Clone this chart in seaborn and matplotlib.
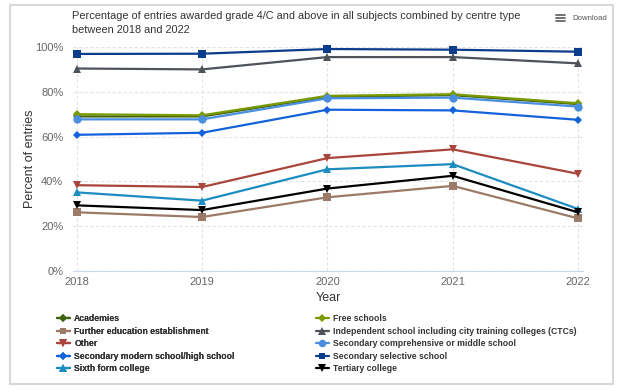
import numpy as np
import pandas as pd
import matplotlib
matplotlib.use('Agg')
import matplotlib.pyplot as plt
from matplotlib.patches import Rectangle
from matplotlib.lines import Line2D
import seaborn as sns

YEARS = [2018, 2019, 2020, 2021, 2022]

ACADEMIES = [69.0, 69.0, 77.8, 78.5, 74.5]
FREE_SCHOOLS = [70.0, 69.5, 78.2, 78.9, 74.9]
FURTHER_EDU = [26.2, 24.1, 32.9, 38.0, 23.5]
INDEPENDENT = [90.4, 90.0, 95.5, 95.5, 92.7]
OTHER = [38.3, 37.5, 50.4, 54.3, 43.4]
SEC_COMP = [67.7, 67.7, 77.1, 77.4, 73.4]
SEC_MODERN = [60.8, 61.7, 72.0, 71.7, 67.5]
SEC_SELECTIVE = [96.9, 97.0, 99.1, 98.8, 97.9]
SIXTH_FORM = [35.1, 31.4, 45.4, 47.7, 27.7]
TERTIARY = [29.3, 27.2, 36.8, 42.5, 26.2]

SERIES = {
    'Academies': ACADEMIES,
    'Free schools': FREE_SCHOOLS,
    'Further education establishment': FURTHER_EDU,
    'Independent school including city training colleges (CTCs)': INDEPENDENT,
    'Other': OTHER,
    'Secondary comprehensive or middle school': SEC_COMP,
    'Secondary modern school/high school': SEC_MODERN,
    'Secondary selective school': SEC_SELECTIVE,
    'Sixth form college': SIXTH_FORM,
    'Tertiary college': TERTIARY,
}

COLORS = {
    'Academies': '#3f6212',
    'Free schools': '#7a9a01',
    'Further education establishment': '#9c7a68',
    'Independent school including city training colleges (CTCs)': '#4e535a',
    'Other': '#a8453d',
    'Secondary comprehensive or middle school': '#4a8ee0',
    'Secondary modern school/high school': '#1463db',
    'Secondary selective school': '#0b3d8c',
    'Sixth form college': '#1d8dc0',
    'Tertiary college': '#000000',
}
MARKERS = {
    'Academies': 'D',
    'Free schools': 'D',
    'Further education establishment': 's',
    'Independent school including city training colleges (CTCs)': '^',
    'Other': 'v',
    'Secondary comprehensive or middle school': 'o',
    'Secondary modern school/high school': 'D',
    'Secondary selective school': 's',
    'Sixth form college': '^',
    'Tertiary college': 'v',
}

rows = []
for name, vals in SERIES.items():
    for y, v in zip(YEARS, vals):
        rows.append({'Year': y, 'Percent': v, 'Centre': name})
df = pd.DataFrame(rows)

sns.set_style('white')
plt.rcParams['font.family'] = ['Liberation Sans', 'DejaVu Sans']

fig = plt.figure(figsize=(6.25, 3.91), dpi=100)
# outer panel border
fig.patches.append(Rectangle((10 / 625, 1 - 384 / 391), 603 / 625, 379 / 391,
                             transform=fig.transFigure, fill=False,
                             edgecolor='#d8d8d8', linewidth=1.5))

ax = fig.add_axes([73 / 625, 1 - 271 / 391, 510 / 625, 224 / 391])
sizes = {'D': 4.5, 's': 5.5, '^': 6, 'v': 6, 'o': 6}
for name in SERIES:
    sub = df[df['Centre'] == name]
    m = MARKERS[name]
    sns.lineplot(data=sub, x='Year', y='Percent', ax=ax, color=COLORS[name],
                 marker=m, markersize=sizes[m], markeredgewidth=0,
                 linewidth=1.6, clip_on=False, legend=False)

ax.set_xlim(2017.97, 2022.04)
ax.set_ylim(0, 100)
ax.set_xticks(YEARS)
ax.set_xticklabels([str(y) for y in YEARS])
ax.set_yticks([0, 20, 40, 60, 80, 100])
ax.set_yticklabels(['0%', '20%', '40%', '60%', '80%', '100%'])
ax.grid(True, color='#e3e3e3', linestyle=(0, (3, 2)), linewidth=0.8)
ax.set_axisbelow(True)
for s in ['top', 'right', 'left']:
    ax.spines[s].set_visible(False)
ax.spines['bottom'].set_color('#ccd6eb')
ax.tick_params(axis='y', length=0, labelsize=8, colors='#666666', pad=7)
ax.tick_params(axis='x', length=0, labelsize=8, colors='#666666', pad=4)
ax.set_xlabel('Year', fontsize=9, color='#333333', labelpad=4)
ax.set_ylabel('Percent of entries', fontsize=9, color='#333333', labelpad=-0.5)

fig.text(72 / 625, 1 - 16 / 391,
         'Percentage of entries awarded grade 4/C and above in all subjects combined by centre type',
         fontsize=7.9, color='#333333', va='center')
fig.text(72 / 625, 1 - 30 / 391, 'between 2018 and 2022',
         fontsize=7.9, color='#333333', va='center')
fig.text(572 / 625, 1 - 18 / 391, 'Download', fontsize=5.6, color='#555555', va='center')
for dy in (-3, 0, 3):
    fig.add_artist(Line2D([556 / 625, 565 / 625], [1 - (18 + dy) / 391] * 2,
                          color='#666666', linewidth=1.3, transform=fig.transFigure))

left_col = ['Academies', 'Further education establishment', 'Other',
            'Secondary modern school/high school', 'Sixth form college']
right_col = ['Free schools', 'Independent school including city training colleges (CTCs)',
             'Secondary comprehensive or middle school', 'Secondary selective school',
             'Tertiary college']


def make_legend(names, x):
    handles = [Line2D([], [], color=COLORS[n], marker=MARKERS[n],
                      markersize=sizes[MARKERS[n]] * 0.9,
                      markeredgewidth=0, linewidth=1.6) for n in names]
    leg = fig.legend(handles, names, loc='upper left',
                     bbox_to_anchor=(x / 625, 1 - 314 / 391), frameon=False,
                     prop={'size': 6.2, 'weight': 'bold'}, handlelength=1.5,
                     handletextpad=0.5, labelspacing=0.42,
                     borderaxespad=0, borderpad=0)
    for t in leg.get_texts():
        t.set_color('#333333')
    return leg


fig.add_artist(make_legend(left_col, 57))
make_legend(right_col, 316)

fig.savefig('out.png', dpi=100)
